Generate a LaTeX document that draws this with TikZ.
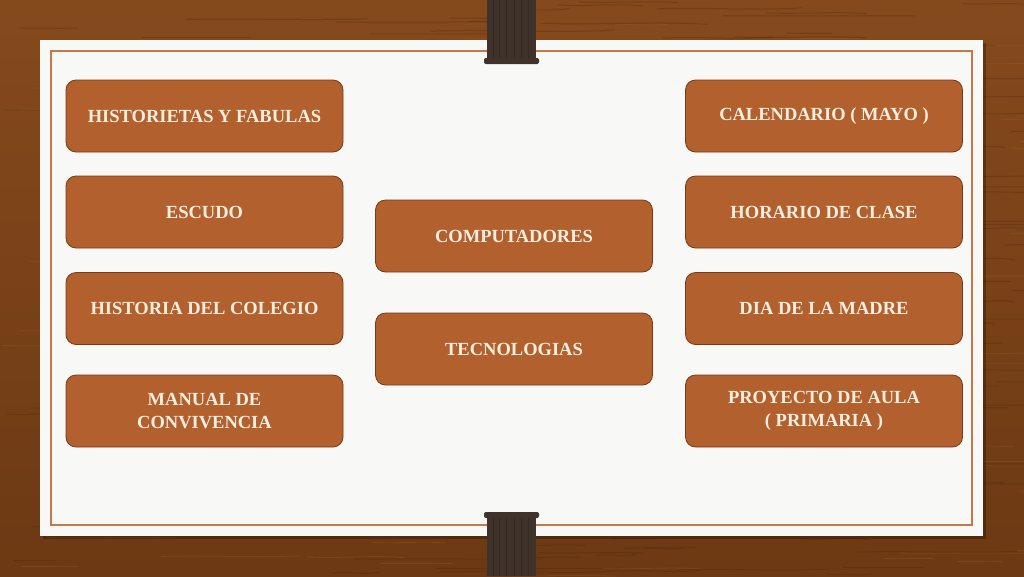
\documentclass[tikz,border=0pt]{standalone}
\usepackage{fontspec}
\setmainfont{Liberation Serif}
\definecolor{woodA}{HTML}{854A1C}
\definecolor{woodB}{HTML}{6C3914}
\definecolor{grain}{HTML}{4A240C}
\definecolor{grainlight}{HTML}{A0622C}
\definecolor{cardcol}{HTML}{F8F8F7}
\definecolor{trim}{HTML}{C47A48}
\definecolor{boxfill}{HTML}{B2602E}
\definecolor{boxline}{HTML}{7A3A18}
\definecolor{boxtext}{HTML}{F8EEDF}
\definecolor{clipcol}{HTML}{3E322A}
\definecolor{cliplinecol}{HTML}{352A23}
\tikzset{
  item/.style={draw=boxline, line width=0.8pt, fill=boxfill, rounded corners=10pt,
    minimum width=277pt, minimum height=72pt, inner sep=0pt, align=center,
    text=boxtext, font=\bfseries\fontsize{18.5}{23}\selectfont},
  grainline/.style={draw=grain, line width=1pt, opacity=0.3},
  grainlite/.style={draw=grainlight, line width=0.8pt, opacity=0.3},
  clipbody/.style={fill=clipcol},
  clipstripe/.style={draw=cliplinecol, line width=0.5pt},
}
\begin{document}
\begin{tikzpicture}[x=1pt,y=-1pt]
\useasboundingbox (0,0) rectangle (1024,576);
% wood background
\shade[top color=woodA, bottom color=woodB] (0,0) rectangle (1024,576);
\pgfmathsetseed{7}
\foreach \i in {1,...,260}{
  \pgfmathsetmacro{\gx}{rnd*1024}
  \pgfmathsetmacro{\gy}{rnd*576}
  \pgfmathsetmacro{\gl}{40+rnd*160}
  \pgfmathsetmacro{\gs}{(rnd-0.5)*6}
  \draw[grainline] (\gx,\gy) .. controls (\gx+\gl/3,\gy+\gs) and (\gx+2*\gl/3,\gy-\gs) .. (\gx+\gl,\gy+\gs/2);
}
\foreach \i in {1,...,120}{
  \pgfmathsetmacro{\gx}{rnd*1024}
  \pgfmathsetmacro{\gy}{rnd*576}
  \pgfmathsetmacro{\gl}{30+rnd*120}
  \pgfmathsetmacro{\gs}{(rnd-0.5)*5}
  \draw[grainlite] (\gx,\gy) .. controls (\gx+\gl/3,\gy+\gs) and (\gx+2*\gl/3,\gy-\gs) .. (\gx+\gl,\gy+\gs/2);
}
% card
\fill[black, opacity=0.25] (43,43) rectangle (986,539);
\fill[cardcol] (40,40) rectangle (983,536);
\draw[trim, line width=1.3pt] (51,51) rectangle (972,525);
% clips
\path[clipbody] (487,0) rectangle (536,62);
\path[clipbody, rounded corners=2pt] (484,58) rectangle (539,64);
\foreach \xx in {493,499,506,514,521,528}{\draw[clipstripe] (\xx,0) -- (\xx,58);}
\path[clipbody] (487,513) rectangle (536,576);
\path[clipbody, rounded corners=2pt] (484,512) rectangle (539,518);
\foreach \xx in {493,499,506,514,521,528}{\draw[clipstripe] (\xx,518) -- (\xx,576);}
% boxes
\node[item] (hist) at (204.5,116) {HISTORIETAS Y FABULAS};
\node[item] (escudo) at (204.5,212) {ESCUDO};
\node[item] (colegio) at (204.5,308.5) {HISTORIA DEL COLEGIO};
\node[item] (manual) at (204.5,411) {MANUAL DE\\CONVIVENCIA};
\node[item] (comp) at (514,236) {COMPUTADORES};
\node[item] (tecno) at (514,349) {TECNOLOGIAS};
\node[item] (cal) at (824,116) {CALENDARIO ( MAYO )};
\node[item] (horario) at (824,212) {HORARIO DE CLASE};
\node[item] (madre) at (824,308.5) {DIA DE LA MADRE};
\node[item] (proy) at (824,411) {PROYECTO DE AULA\\( PRIMARIA )};
\end{tikzpicture}
\end{document}
